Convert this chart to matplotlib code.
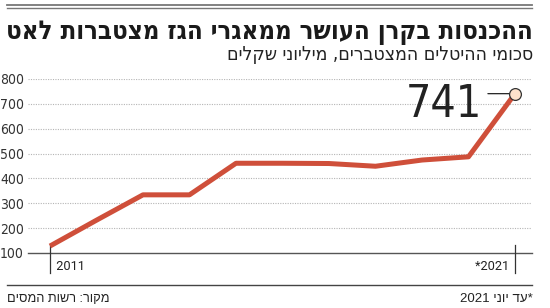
import matplotlib
matplotlib.use('Agg')
import matplotlib.pyplot as plt
import matplotlib.transforms as mtrans
from matplotlib import font_manager

# data (millions of shekels)
years = [2011, 2012, 2013, 2014, 2015, 2016, 2017, 2018, 2019, 2020, 2021]
values = [128, 232, 334, 334, 461, 461, 460, 449, 474, 487, 741]
yticks = [100, 200, 300, 400, 500, 600, 700, 800]
xlabels = {2011: '2011', 2021: '*2021'}

title = 'ההכנסות בקרן העושר ממאגרי הגז מצטברות לאט'
subtitle = 'סכומי ההיטלים המצטברים, מיליוני שקלים'
source = 'מקור: רשות המסים'
note = '*עד יוני 2021'


def rtl(s):
    # matplotlib lays text out left to right, so flip Hebrew to visual order
    out, buf = [], ''
    for ch in s:
        if ch.isdigit():
            buf += ch
        else:
            if buf:
                out.append(buf[::-1])
                buf = ''
            out.append(ch)
    if buf:
        out.append(buf[::-1])
    return ''.join(out)[::-1]


# look for a condensed face, otherwise fall back to the plain ones
files = [f.fname for f in font_manager.fontManager.ttflist]
def find(keys, bold):
    for k in keys:
        for fn in files:
            base = fn.split('/')[-1]
            if k in base and (('Bold' in base) == bold) and 'Oblique' not in base and 'Italic' not in base:
                return fn
    return None

cond = find(['DejaVuSansCondensed', 'LiberationSansNarrow', 'Condensed'], False)
cond_b = find(['DejaVuSansCondensed', 'LiberationSansNarrow', 'Condensed'], True)
fp_cond = font_manager.FontProperties(fname=cond) if cond else font_manager.FontProperties(family='DejaVu Sans')
fp_cond_b = font_manager.FontProperties(fname=cond_b) if cond_b else font_manager.FontProperties(family='DejaVu Sans', weight='bold')

names = {f.name for f in font_manager.fontManager.ttflist}
plain = [n for n in ['Roboto', 'Liberation Sans', 'DejaVu Sans'] if n in names]
heb = [n for n in ['Liberation Sans', 'DejaVu Sans'] if n in names]

line_red = '#cf4f3a'
W, H = 550, 308
fig = plt.figure(figsize=(5.5, 3.08), dpi=100)
ax = fig.add_axes([28 / W, 55 / H, 504 / W, 174 / H])

ax.plot(years, values, color=line_red, lw=3.6, solid_capstyle='butt', zorder=3)
ax.plot(years[-1], values[-1], 'o', ms=8.5, mfc='#fde2cc', mec='#333333', mew=0.9, zorder=4, clip_on=False)

ax.set_xlim(2010.527, 2021.366)
ax.set_ylim(100, 800)
ax.set_yticks(yticks)
ax.set_yticklabels([str(v) for v in yticks], fontproperties=fp_cond, color='#333333')
for lab in ax.get_yticklabels():
    lab.set_fontsize(10)
ax.tick_params(axis='y', length=0, pad=3)
ax.set_xticks([])
for s in ax.spines.values():
    s.set_visible(False)
for v in yticks[1:]:
    ax.axhline(v, color='#b5b5b5', lw=0.8, ls=(0, (1, 1.2)), zorder=1)
ax.axhline(100, color='#555555', lw=1.0, zorder=2, clip_on=False)

# year ticks with labels
tr = mtrans.blended_transform_factory(ax.transData, ax.transAxes)
for yr, lab in xlabels.items():
    ax.plot([yr, yr], [-0.115, 0.046], color='#333333', lw=0.9, transform=tr, clip_on=False)
    if yr == years[0]:
        ax.text(yr, -0.075, '  ' + lab, transform=tr, ha='left', va='center',
                family=plain, fontsize=9.2, color='#222222')
    else:
        ax.text(yr, -0.075, lab + '  ', transform=tr, ha='right', va='center',
                family=plain, fontsize=9.2, color='#222222')

# callout for last value
ax.annotate('', xy=(years[-1], values[-1]), xytext=(-19.5, 0), textcoords='offset points',
            arrowprops=dict(arrowstyle='-', color='#222222', lw=0.9, shrinkA=0, shrinkB=4))
big = ax.annotate(str(values[-1]), xy=(years[-1], values[-1]), xytext=(-23.5, -17),
                  textcoords='offset points', ha='right', va='baseline',
                  fontproperties=fp_cond, color='#222222')
big.set_fontsize(32)

# header / footer rules
for y, c, lw in [(5, '#777777', 1.3), (8, '#777777', 1.0)]:
    fig.add_artist(plt.Line2D([7 / W, 532 / W], [1 - y / H, 1 - y / H], color=c, lw=lw))
fig.add_artist(plt.Line2D([7 / W, 532 / W], [1 - 285 / H, 1 - 285 / H], color='#444444', lw=1.0))

t1 = fig.text(533 / W, 1 - 39 / H, rtl(title), ha='right', va='baseline',
              fontproperties=fp_cond_b, color='#1a1a1a')
t2 = fig.text(533 / W, 1 - 60 / H, rtl(subtitle), ha='right', va='baseline',
              fontproperties=fp_cond, color='#222222')
t3 = fig.text(7 / W, 1 - 302 / H, rtl(source), ha='left', va='baseline',
              family=heb, fontsize=9.5, color='#222222')
t4 = fig.text(533 / W, 1 - 302 / H, rtl(note), ha='right', va='baseline',
              family=heb, fontsize=9.5, color='#222222')
t1.set_fontsize(20)
t2.set_fontsize(13)

# fit text widths to the reference
fig.canvas.draw()
r = fig.canvas.get_renderer()
for t, w in [(t1, 526), (t2, 307), (t3, 103), (t4, 73)]:
    bb = t.get_window_extent(r)
    t.set_fontsize(t.get_fontsize() * w / bb.width)

fig.savefig('out.png', dpi=100, facecolor='white')
